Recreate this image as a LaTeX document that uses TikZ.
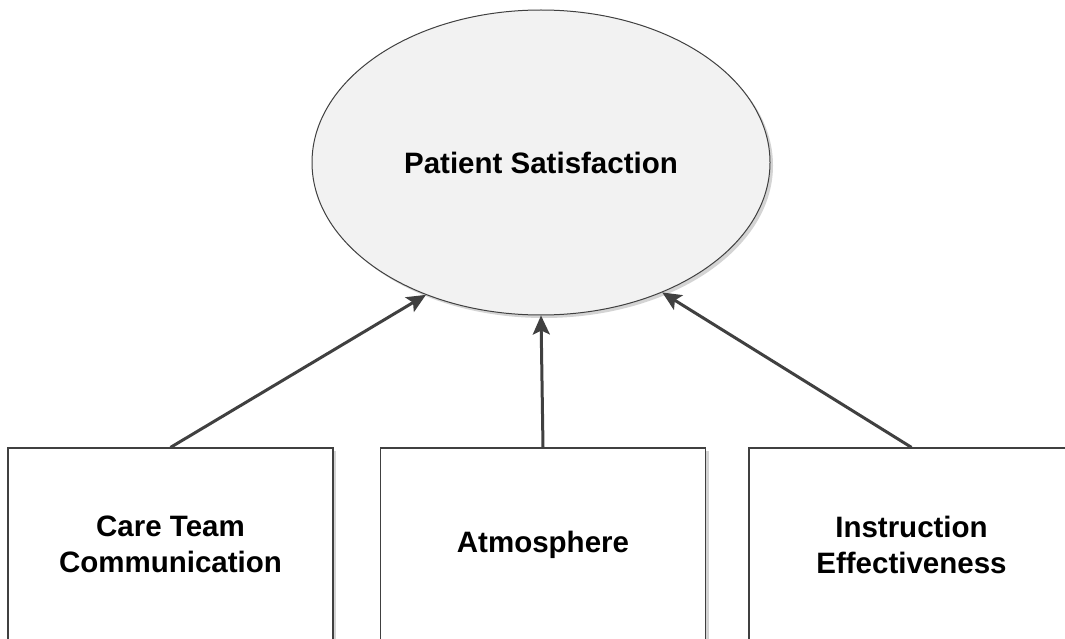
\documentclass[tikz,border=0pt]{standalone}
\usepackage{fontspec}
\setmainfont{Liberation Sans}
\usetikzlibrary{shapes.geometric,arrows.meta,shadows}
\definecolor{edgegray}{HTML}{404040}
\definecolor{fillgray}{HTML}{F2F2F2}
\definecolor{shadowgray}{HTML}{D4D4D4}
\begin{document}
\begin{tikzpicture}[x=1pt,y=-1pt,
  lbl/.style={font=\bfseries\fontsize{29.5}{36}\selectfont, align=center},
  dropshadow/.style={copy shadow={shadow xshift=3pt, shadow yshift=-3pt,
      fill=shadowgray, draw=none}},
  factor/.style={lbl, draw=edgegray, line width=1.2pt, fill=white,
      minimum width=325pt, minimum height=193pt, inner sep=0pt, dropshadow},
  outcome/.style={lbl, ellipse, draw=edgegray, line width=1pt, fill=fillgray,
      minimum width=458pt, minimum height=305pt, inner sep=0pt, dropshadow},
  link/.style={draw=edgegray, line width=3pt,
      -{Stealth[length=19pt, width=17pt, inset=4pt]}}]
  \useasboundingbox (0,0) rectangle (1065,639);

  % outcome
  \node[outcome] (ps) at (541,162.5) {Patient Satisfaction};

  % contributing factors
  \node[factor] (ctc) at (170.5,544.5) {Care Team\\Communication};
  \node[factor] (atm) at (543,544.5) {Atmosphere};
  \node[factor] (ie)  at (911.5,544.5) {Instruction\\Effectiveness};

  % influences
  \draw[link] (ctc.north) -- (ps.229);
  \draw[link] (atm.north) -- (ps.south);
  \draw[link] (ie.north) -- (ps.313);
\end{tikzpicture}
\end{document}
